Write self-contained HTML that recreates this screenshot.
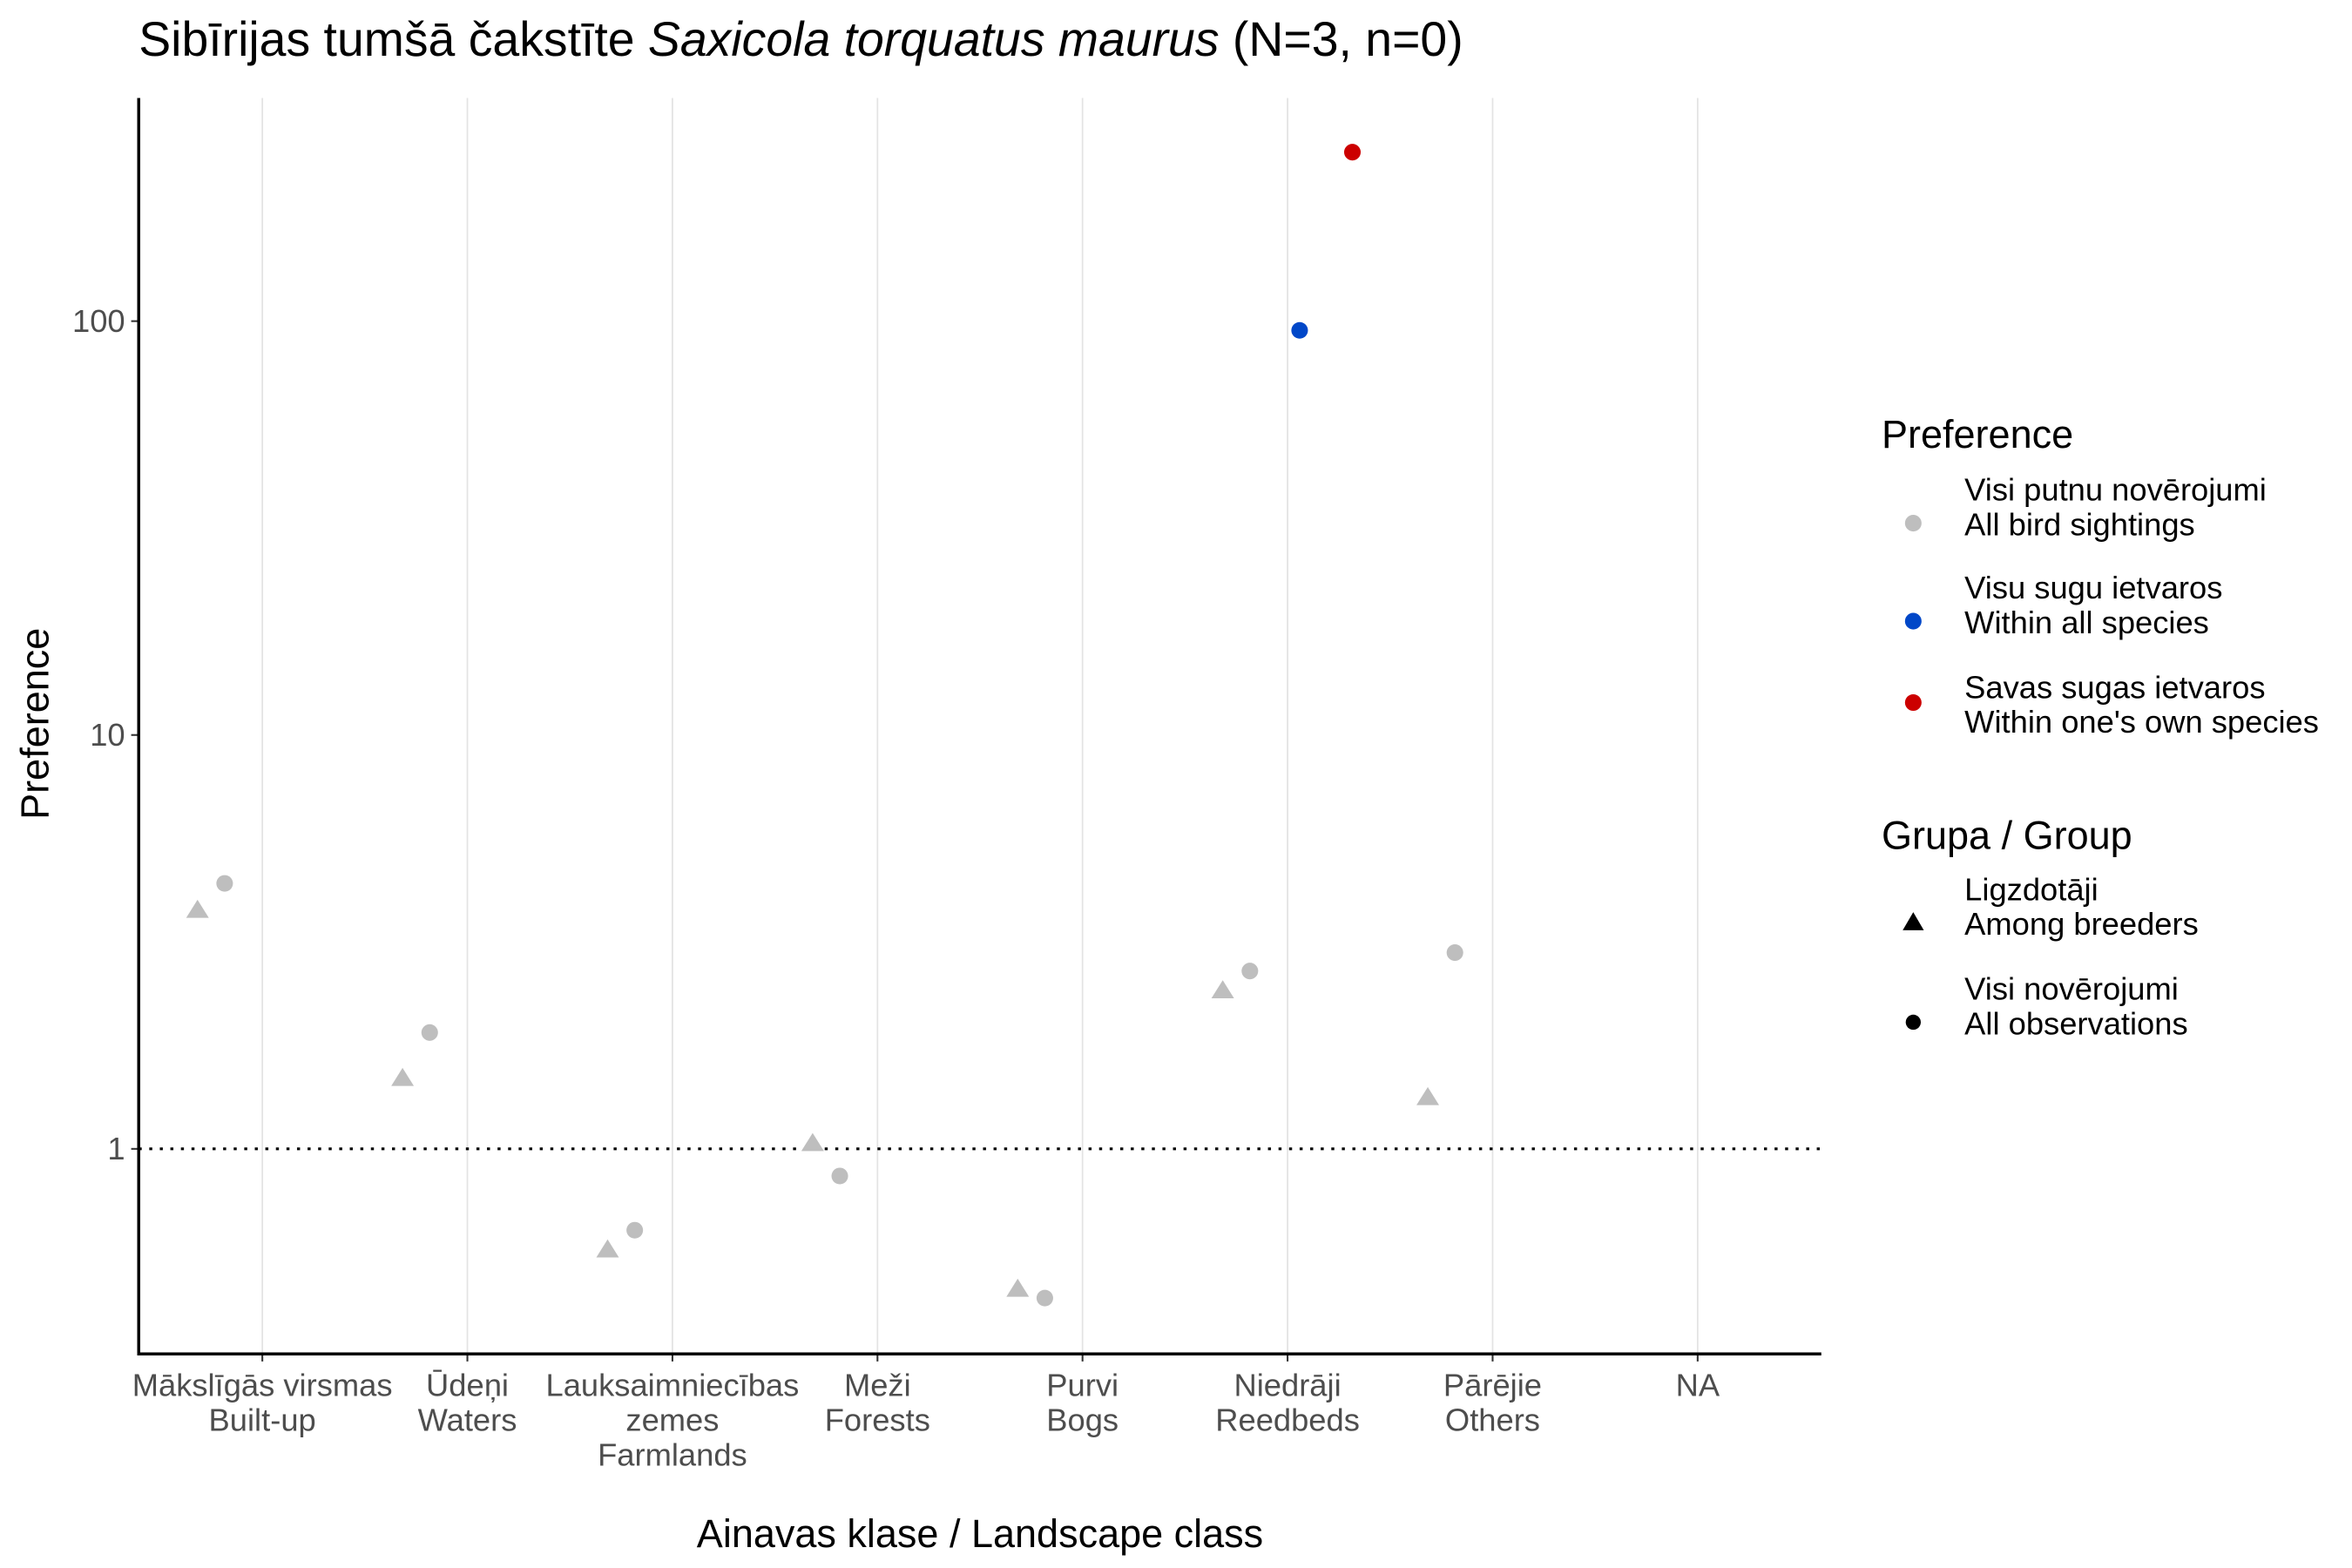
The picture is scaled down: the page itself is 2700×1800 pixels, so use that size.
<!DOCTYPE html>
<html><head><meta charset="utf-8"><style>
html,body{margin:0;padding:0;background:#fff;}
svg{display:block;font-family:"Liberation Sans",sans-serif;}
</style></head><body>
<svg id="chart" width="2700" height="1800" viewBox="0 0 1560 1040" xmlns="http://www.w3.org/2000/svg">
<rect width="1560" height="1040" fill="#fff"/>
<text x="92" y="37" font-size="32" fill="#000">Sibīrijas tumšā čakstīte <tspan font-style="italic">Saxicola torquatus maurus</tspan> (N=3, n=0)</text>
<g id="grid"></g>
<g id="marks"></g>
<g id="axes"></g>
<text x="650" y="1026" font-size="26" text-anchor="middle" fill="#000">Ainavas klase / Landscape class</text>
<text transform="translate(32,480) rotate(-90)" font-size="26" text-anchor="middle" fill="#000">Preference</text>
<g font-size="21" fill="#000">
<text x="1248" y="297" font-size="26">Preference</text>
<circle cx="1269" cy="347" r="5.5" fill="#bebebe"/>
<text x="1303" y="332"><tspan x="1303">Visi putnu novērojumi</tspan><tspan x="1303" dy="23">All bird sightings</tspan></text>
<circle cx="1269" cy="412" r="5.5" fill="#0047c8"/>
<text x="1303" y="397"><tspan x="1303">Visu sugu ietvaros</tspan><tspan x="1303" dy="23">Within all species</tspan></text>
<circle cx="1269" cy="466" r="5.5" fill="#cc0000"/>
<text x="1303" y="463"><tspan x="1303">Savas sugas ietvaros</tspan><tspan x="1303" dy="23">Within one's own species</tspan></text>
<text x="1248" y="563" font-size="26">Grupa / Group</text>
<polygon points="1269,605 1262,617 1276,617" fill="#000"/>
<text x="1303" y="597"><tspan x="1303">Ligzdotāji</tspan><tspan x="1303" dy="23">Among breeders</tspan></text>
<circle cx="1269" cy="678" r="5" fill="#000"/>
<text x="1303" y="663"><tspan x="1303">Visi novērojumi</tspan><tspan x="1303" dy="23">All observations</tspan></text>
</g>
</svg>
<script>
const categories = [["Mākslīgās virsmas","Built-up"],["Ūdeņi","Waters"],["Lauksaimniecības","zemes","Farmlands"],["Meži","Forests"],["Purvi","Bogs"],["Niedrāji","Reedbeds"],["Pārējie","Others"],["NA"]];
const breedersAll = [3.77,1.48,0.57,1.03,0.458,2.41,1.33,null];
const observationsAll = [4.38,1.91,0.636,0.86,0.436,2.69,2.98,null];
const withinAllSpecies = [null,null,null,null,null,95,null,null];
const withinOwnSpecies = [null,null,null,null,null,256,null,null];
const yTicks = [1,10,100];
const yTickLabels = ["1","10","100"];

const NS = "http://www.w3.org/2000/svg";
const L = 92, R = 1208, T = 65, B = 898;
function xScale(i){ return 174 + i*136; }
function yScale(v){ return 762 - 274.5*Math.log10(v); }
function mk(tag, attrs, parent){ const e=document.createElementNS(NS,tag); for(const k in attrs) e.setAttribute(k,attrs[k]); parent.appendChild(e); return e; }
const grid=document.getElementById('grid'), marks=document.getElementById('marks'), axes=document.getElementById('axes');

categories.forEach((c,i)=>{
  const g=mk('line',{x1:xScale(i),x2:xScale(i),y1:T,y2:B,stroke:'#e3e3e3','stroke-width':1},grid);
  
  
  const t=mk('line',{x1:xScale(i),x2:xScale(i),y1:B,y2:B+5,stroke:'#333','stroke-width':1.2},axes);
  
  
  const lbl=mk('text',{x:xScale(i),y:926,'font-size':21,fill:'#4d4d4d','text-anchor':'middle'},axes);
  
  
  c.forEach((line,j)=>{ const ts=mk('tspan',{x:xScale(i),dy:j?23:0},lbl); ts.textContent=line; });
});

const ref=mk('line',{x1:L,x2:R,y1:yScale(1),y2:yScale(1),stroke:'#000','stroke-width':1.8,'stroke-dasharray':'2,5'},marks);



function tri(cx,cy,col,name){
  const p=mk('polygon',{points:`${cx},${cy-7} ${cx-7.5},${cy+5} ${cx+7.5},${cy+5}`,fill:col},marks);
  
  
}
function dot(cx,cy,col,name){
  const c=mk('circle',{cx:cx,cy:cy,r:5.5,fill:col},marks);
  
  
}
breedersAll.forEach((v,i)=>{ if(v!=null) tri(xScale(i)-43,yScale(v),'#bebebe','breeders-point'); });
observationsAll.forEach((v,i)=>{ if(v!=null) dot(xScale(i)-25,yScale(v),'#bebebe','observations-point'); });
withinAllSpecies.forEach((v,i)=>{ if(v!=null) dot(xScale(i)+8,yScale(v),'#0047c8','within-all-species-point'); });
withinOwnSpecies.forEach((v,i)=>{ if(v!=null) dot(xScale(i)+43,yScale(v),'#cc0000','within-own-species-point'); });

yTicks.forEach((v,i)=>{
  const t=mk('line',{x1:L-5,x2:L,y1:yScale(v),y2:yScale(v),stroke:'#333','stroke-width':1.2},axes);
  
  
  const l=mk('text',{x:L-9,y:yScale(v)+7,'font-size':21,fill:'#4d4d4d','text-anchor':'end'},axes);
  
  
  l.textContent=yTickLabels[i];
});
const ya=mk('line',{x1:L,x2:L,y1:T,y2:B+1,stroke:'#000','stroke-width':2},axes);


const xa=mk('line',{x1:L-1,x2:R,y1:B,y2:B,stroke:'#000','stroke-width':2},axes);


</script>
</body></html>
